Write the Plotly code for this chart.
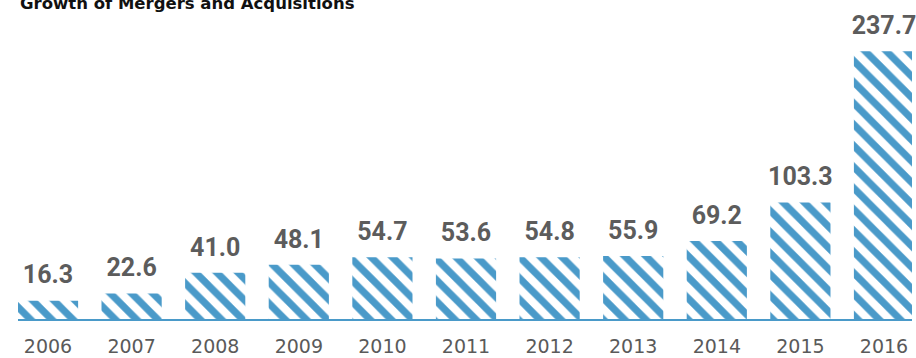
import plotly.graph_objects as go

years = ["2006", "2007", "2008", "2009", "2010", "2011", "2012", "2013", "2014", "2015", "2016"]
values = [16.3, 22.6, 41.0, 48.1, 54.7, 53.6, 54.8, 55.9, 69.2, 103.3, 237.7]
labels = ["16.3", "22.6", "41.0", "48.1", "54.7", "53.6", "54.8", "55.9", "69.2", "103.3", "237.7"]
title_text = "Growth of Mergers and Acquisitions"

BLUE = "#4a9ac9"

fig = go.Figure()
fig.add_trace(go.Bar(
    x=years, y=values,
    width=0.72,
    marker=dict(
        color="white",
        line=dict(width=0),
        pattern=dict(shape="\\", fgcolor=BLUE, bgcolor="white", fgopacity=1,
                     size=15, solidity=0.47),
    ),
    hoverinfo="skip",
))

fig.add_trace(go.Scatter(
    x=years, y=values, text=labels, mode="markers+text",
    textposition="top center",
    marker=dict(size=16, color="rgba(0,0,0,0)"),
    textfont=dict(family="Roboto", size=25, color="#5c5c5c", weight="bold"),
    cliponaxis=False, hoverinfo="skip",
))

fig.add_annotation(
    xref="paper", yref="paper", x=0, y=1.0195, xanchor="left", yanchor="middle",
    text=title_text, showarrow=False,
    font=dict(family="DejaVu Sans", size=16.5, color="#111111", weight="bold"),
)

fig.update_layout(
    width=916, height=358,
    margin=dict(l=18, r=4, t=10, b=39),
    paper_bgcolor="white", plot_bgcolor="white",
    showlegend=False,
    xaxis=dict(
        type="category", range=[-0.359, 10.335], automargin=False,
        showline=True, linecolor=BLUE, linewidth=2,
        showgrid=False, ticks="", zeroline=False,
        tickfont=dict(family="DejaVu Sans", size=19, color="#5a5a5a"),
        ticklabelstandoff=9,
    ),
    yaxis=dict(range=[0, 274.2], visible=False, showgrid=False, zeroline=False,
               automargin=False),
)

fig.write_html("out.html")
